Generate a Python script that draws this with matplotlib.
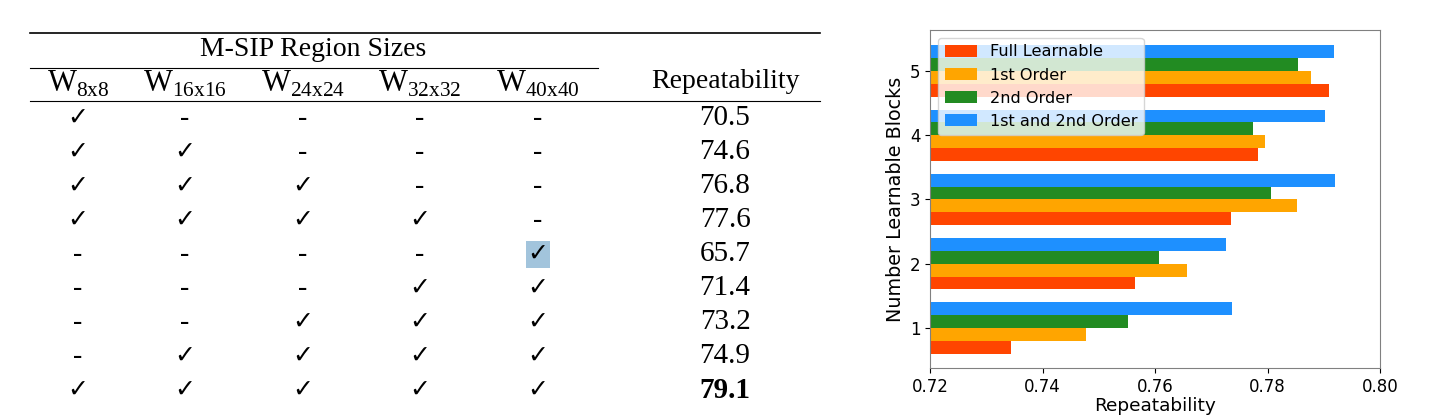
import numpy as np
import matplotlib.pyplot as plt

plt.rcParams['mathtext.fontset'] = 'custom'
plt.rcParams['mathtext.rm'] = 'Liberation Serif'

# table data
col_names = ['8x8', '16x16', '24x24', '32x32', '40x40']
used = [
    [1, 0, 0, 0, 0],
    [1, 1, 0, 0, 0],
    [1, 1, 1, 0, 0],
    [1, 1, 1, 1, 0],
    [0, 0, 0, 0, 1],
    [0, 0, 0, 1, 1],
    [0, 0, 1, 1, 1],
    [0, 1, 1, 1, 1],
    [1, 1, 1, 1, 1],
]
table_rep = [70.5, 74.6, 76.8, 77.6, 65.7, 71.4, 73.2, 74.9, 79.1]

# bar chart data
blocks = [1, 2, 3, 4, 5]
full_learn = [0.7344, 0.7564, 0.7735, 0.7783, 0.7909]
first_order = [0.7477, 0.7657, 0.7852, 0.7796, 0.7877]
second_order = [0.7552, 0.7607, 0.7806, 0.7774, 0.7854]
both_order = [0.7737, 0.7726, 0.7920, 0.7902, 0.7918]

fig = plt.figure(figsize=(14.43, 4.2), dpi=100)

# ---- table on the left (pixel coords) ----
tab = fig.add_axes([0, 0, 1, 1])
tab.set_xlim(0, 1443)
tab.set_ylim(420, 0)
tab.axis('off')

serif = ['Liberation Serif', 'DejaVu Sans']
fs = 20
col_x = [78, 185, 303, 420, 538]
rep_x = 725
row0, row_h = 118, 34

tab.plot([30, 820], [33, 33], color='black', lw=1.2)
tab.plot([30, 598], [68, 68], color='black', lw=0.8)
tab.plot([30, 820], [101, 101], color='black', lw=0.8)
tab.text(313, 49, 'M-SIP Region Sizes', ha='center', va='center', fontsize=fs, family=serif)
for x, name in zip(col_x, col_names):
    tab.text(x, 84, r'$\mathrm{W}_{\mathrm{%s}}$' % name, ha='center', va='center', fontsize=22)
tab.text(rep_x, 82, 'Repeatability', ha='center', va='center', fontsize=fs, family=serif)

for i, (flags, val) in enumerate(zip(used, table_rep)):
    y = row0 + i * row_h
    for x, f in zip(col_x, flags):
        if f:
            hl = (i == 4 and x == col_x[4])
            tab.text(x, y, '\u2713', ha='center', va='center', fontsize=18, family=['DejaVu Sans'],
                     bbox=dict(facecolor='#a2c4dc', edgecolor='none', pad=1) if hl else None)
        else:
            tab.text(x, y, '-', ha='center', va='center', fontsize=fs, family=serif)
    best = val == max(table_rep)
    tab.text(rep_x, y, f'{val:.1f}', ha='center', va='center', fontsize=fs + 1, family=serif,
             fontweight='bold' if best else 'normal')

# ---- bar chart on the right ----
ax = fig.add_axes([930 / 1443, 52 / 420, 450 / 1443, 338 / 420])
h = 0.2
y = np.array(blocks)
ax.barh(y - 0.3, full_learn, h, color='#FF4500', label='Full Learnable')
ax.barh(y - 0.1, first_order, h, color='#FFA500', label='1st Order')
ax.barh(y + 0.1, second_order, h, color='#228B22', label='2nd Order')
ax.barh(y + 0.3, both_order, h, color='#1E90FF', label='1st and 2nd Order')
ax.set_xlim(0.72, 0.80)
ax.set_ylim(0.375, 5.64)
ax.set_xticks([0.72, 0.74, 0.76, 0.78, 0.80])
ax.set_yticks(blocks)
ax.tick_params(labelsize=12)
ax.set_xlabel('Repeatability', fontsize=13.3, labelpad=1)
ax.set_ylabel('Number Learnable Blocks', fontsize=13.8, labelpad=3)
for s in ax.spines.values():
    s.set_color('#808080')
ax.legend(loc='upper left', fontsize=11.6)

fig.savefig('out.png', dpi=100)
